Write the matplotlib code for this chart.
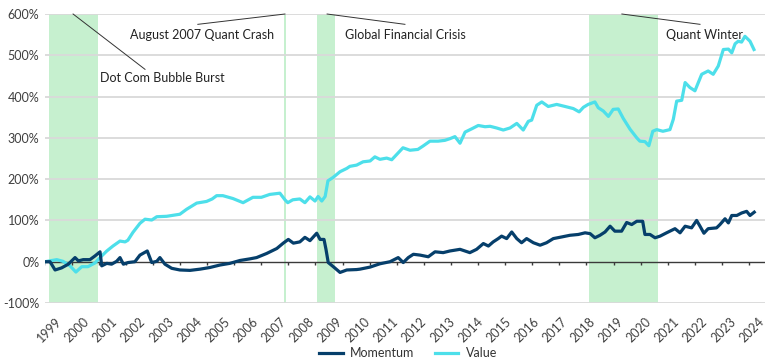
import numpy as np
import matplotlib
import matplotlib.pyplot as plt
from matplotlib.transforms import ScaledTranslation

matplotlib.use('Agg')

# cumulative performance (%); dates in decimal years
value_dates = [1999.00, 1999.25, 1999.42, 1999.64, 1999.89, 2000.10, 2000.31, 2000.53, 2000.78, 2000.96,
               2001.20, 2001.42, 2001.67, 2001.85, 2001.95, 2002.13, 2002.38, 2002.56, 2002.80, 2002.98,
               2003.33, 2003.80, 2004.04, 2004.40, 2004.75, 2004.95, 2005.11, 2005.33, 2005.69, 2006.05,
               2006.40, 2006.70, 2007.00, 2007.36, 2007.54, 2007.64, 2007.82, 2008.07, 2008.25, 2008.43,
               2008.61, 2008.72, 2008.85, 2008.97, 2009.07, 2009.25, 2009.50, 2009.74, 2009.85, 2010.09,
               2010.32, 2010.57, 2010.74, 2010.92, 2011.16, 2011.34, 2011.52, 2011.74, 2011.99, 2012.27,
               2012.45, 2012.70, 2012.99, 2013.23, 2013.41, 2013.59, 2013.77, 2013.95, 2014.19, 2014.42,
               2014.66, 2014.84, 2015.07, 2015.31, 2015.55, 2015.79, 2016.02, 2016.20, 2016.32, 2016.50,
               2016.68, 2016.91, 2017.21, 2017.51, 2017.80, 2018.01, 2018.16, 2018.33, 2018.57, 2018.69,
               2018.87, 2019.05, 2019.22, 2019.40, 2019.58, 2019.82, 2020.06, 2020.17, 2020.35, 2020.49,
               2020.63, 2020.77, 2020.99, 2021.24, 2021.36, 2021.48, 2021.66, 2021.78, 2021.95, 2022.13,
               2022.37, 2022.60, 2022.78, 2022.96, 2023.14, 2023.32, 2023.44, 2023.56, 2023.67, 2023.79,
               2023.91, 2024.09, 2024.23]
value_perf = [0, 3, 5, 1, -10, -25, -12, -12, -3, 10,
              26, 38, 50, 48, 52, 71, 93, 103, 101, 109,
              110, 115, 127, 142, 146, 152, 160, 160, 153, 143,
              156, 156, 163, 166, 150, 143, 150, 152, 143, 157,
              147, 158, 147, 158, 196, 204, 218, 226, 231, 234,
              242, 244, 254, 248, 251, 247, 260, 276, 270, 272,
              280, 292, 292, 294, 298, 303, 287, 314, 322, 330,
              327, 328, 324, 319, 324, 335, 319, 340, 343, 379,
              387, 376, 381, 376, 371, 363, 374, 381, 387, 373,
              365, 352, 369, 370, 347, 321, 300, 292, 291, 281,
              316, 320, 316, 320, 345, 389, 391, 434, 422, 414,
              454, 462, 454, 474, 514, 515, 506, 528, 534, 532,
              546, 534, 514]

momentum_dates = [1999.00, 1999.18, 1999.36, 1999.59, 1999.83, 2000.07, 2000.19, 2000.36, 2000.60, 2000.78,
                  2000.96, 2001.02, 2001.20, 2001.37, 2001.55, 2001.67, 2001.79, 2001.96, 2002.20, 2002.38,
                  2002.64, 2002.80, 2002.98, 2003.09, 2003.27, 2003.51, 2003.80, 2004.16, 2004.52, 2004.87,
                  2005.23, 2005.58, 2005.94, 2006.30, 2006.53, 2006.89, 2007.25, 2007.48, 2007.66, 2007.84,
                  2008.07, 2008.25, 2008.43, 2008.67, 2008.79, 2008.93, 2009.00, 2009.08, 2009.26, 2009.50,
                  2009.74, 2010.09, 2010.21, 2010.57, 2010.92, 2011.28, 2011.57, 2011.75, 2011.93, 2012.11,
                  2012.35, 2012.64, 2012.88, 2013.17, 2013.41, 2013.77, 2014.12, 2014.36, 2014.60, 2014.78,
                  2014.95, 2015.13, 2015.25, 2015.43, 2015.61, 2015.79, 2015.96, 2016.14, 2016.38, 2016.62,
                  2016.85, 2017.09, 2017.39, 2017.68, 2017.98, 2018.22, 2018.40, 2018.57, 2018.75, 2018.93,
                  2019.11, 2019.28, 2019.52, 2019.70, 2019.88, 2020.06, 2020.27, 2020.35, 2020.53, 2020.71,
                  2020.89, 2021.12, 2021.42, 2021.60, 2021.78, 2022.01, 2022.19, 2022.31, 2022.45, 2022.60,
                  2022.90, 2023.02, 2023.20, 2023.32, 2023.44, 2023.62, 2023.79, 2023.97, 2024.09, 2024.24]
momentum_perf = [0, 0, -20, -15, -6, 10, 2, 5, 5, 14,
                 24, -10, -4, -6, 1, 10, -6, -2, 0, 16,
                 26, -2, 1, 10, -6, -16, -20, -21, -18, -14,
                 -8, -4, 3, 7, 10, 20, 32, 45, 54, 45,
                 48, 59, 51, 69, 54, 54, 30, -2, -12, -26,
                 -20, -19, -18, -13, -5, 0, 10, -2, 10, 18,
                 16, 12, 24, 22, 26, 30, 22, 30, 44, 38,
                 48, 56, 62, 56, 72, 56, 46, 56, 46, 40,
                 46, 56, 60, 64, 66, 70, 68, 58, 64, 72,
                 86, 74, 74, 95, 90, 98, 98, 66, 66, 58,
                 62, 70, 80, 70, 86, 82, 100, 86, 69, 80,
                 82, 90, 104, 94, 112, 112, 118, 122, 112, 120]

# shaded episodes: (start, end)
episodes = [(1999.14, 2000.89), (2007.49, 2007.58), (2008.67, 2009.32), (2018.36, 2020.82)]

# annotations: text, text position, line start (top), line end
notes = [
    ('Dot Com Bubble Burst', (2000.96, 446), (2000.0, 600), (2002.56, 466)),
    ('August 2007 Quant Crash', (2002.02, 550), (2007.54, 600), (2004.44, 575)),
    ('Global Financial Crisis', (2009.68, 550), (2009.04, 600), (2011.81, 575)),
    ('Quant Winter', (2021.10, 550), (2019.53, 600), (2022.31, 575)),
]

years = list(range(1999, 2025))

plt.rcParams['font.family'] = ['Lato', 'DejaVu Sans']

fig = plt.figure(figsize=(7.7, 3.63), dpi=100)
ax = fig.add_axes([0.0584, 0.1653, 0.935, 0.7961])

for a, b in episodes:
    ax.axvspan(a, b, color='#c6f0cf', lw=0, zorder=0)

for y in range(-100, 700, 100):
    if y != 0:
        ax.axhline(y, color='#d9d9d9', lw=1.3, zorder=1)
ax.axhline(0, color='#3a3a3a', lw=1.0, zorder=2)

# small tick marks hanging off the zero line
zero_ticks = 1999 - 0.018 + 0.9644 * np.arange(27)
ax.vlines(zero_ticks, -9, 0, colors='#3a3a3a', linewidths=1.0, zorder=2.5)

ax.plot(momentum_dates, momentum_perf, color='#063f6b', lw=2.3, label='Momentum', zorder=4)
ax.plot(value_dates, value_perf, color='#4ddfea', lw=2.3, label='Value', zorder=3)

for txt, tpos, p0, p1 in notes:
    ax.plot([p0[0], p1[0]], [p0[1], p1[1]], color='#333333', lw=0.7, zorder=5, clip_on=False)
    ax.text(tpos[0], tpos[1], txt, fontsize=9, color='#222222', va='center', ha='left', zorder=6)

ax.set_xlim(1999.0, 2024.62)
ax.set_ylim(-100, 600)
ax.set_yticks(range(-100, 700, 100))
ax.set_yticklabels([f'{v}%' for v in range(-100, 700, 100)])
ax.set_xticks(years)
ax.set_xticklabels([str(y) for y in years], rotation=45, ha='right', rotation_mode='anchor')
ax.tick_params(axis='both', length=0, labelsize=9, colors='#404040')
ax.tick_params(axis='x', pad=9)
ax.tick_params(axis='y', pad=4)
for lbl in ax.get_xticklabels():
    lbl.set_transform(lbl.get_transform() + ScaledTranslation(0.1, 0, fig.dpi_scale_trans))
for s in ax.spines.values():
    s.set_visible(False)

fig.legend(loc='lower center', bbox_to_anchor=(0.53, -0.02), ncol=2, frameon=False,
           fontsize=9, handlelength=1.9, columnspacing=1.6, handletextpad=0.6,
           labelcolor='#333333')

fig.savefig('out.png', dpi=100)
